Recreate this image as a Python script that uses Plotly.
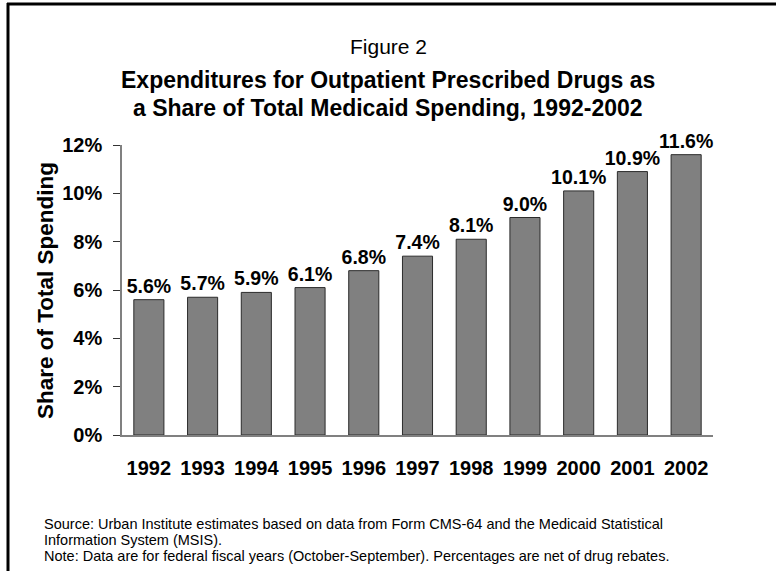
import plotly.graph_objects as go

# data
anos = ["1992", "1993", "1994", "1995", "1996", "1997", "1998", "1999", "2000", "2001", "2002"]
share = [5.6, 5.7, 5.9, 6.1, 6.8, 7.4, 8.1, 9.0, 10.1, 10.9, 11.6]
yticks = [0, 2, 4, 6, 8, 10, 12]
ytext = ["0%", "2%", "4%", "6%", "8%", "10%", "12%"]

W, H = 776, 571
L, R, T, B = 122, 63, 145, 136
FONT = "Liberation Sans, Arial, sans-serif"


def px(x):
    # pixel x -> paper x
    return (x - L) / (W - L - R)


def py(y):
    # pixel y -> paper y
    return (H - B - y) / (H - T - B)


fig = go.Figure()
fig.add_trace(go.Bar(
    x=anos, y=share,
    marker=dict(color="#808080", line=dict(color="#2b2b2b", width=1)),
    texttemplate="%{y:.1f}%", textposition="outside", cliponaxis=False,
    constraintext="none",
    textfont=dict(family=FONT, size=19.5, color="black", weight="bold"),
    showlegend=False,
))

fig.update_layout(
    width=W, height=H,
    margin=dict(l=L, r=R, t=T, b=B, pad=0),
    paper_bgcolor="white", plot_bgcolor="white",
    bargap=0.44,
    font=dict(family=FONT, color="black"),
    xaxis=dict(
        showline=True, linecolor="#808080", linewidth=1.5,
        ticks="", showgrid=False, ticklabelstandoff=14,
        tickfont=dict(family=FONT, size=20, weight="bold"),
    ),
    yaxis=dict(
        range=[0, 12], tickvals=yticks, ticktext=ytext,
        showline=True, linecolor="#808080", linewidth=1.5,
        ticks="outside", ticklen=7, tickcolor="#333333", showgrid=False,
        zeroline=False, ticklabelstandoff=7,
        tickfont=dict(family=FONT, size=20, weight="bold"),
    ),
)

# eixo y titulo
fig.add_annotation(text="<b>Share of Total Spending</b>", x=px(45), y=py(291),
                   xref="paper", yref="paper", textangle=-90, showarrow=False,
                   xanchor="center", yanchor="middle", font=dict(family=FONT, size=22.5))

# titulos
fig.add_annotation(text="Figure 2", x=px(388), y=py(46), xref="paper", yref="paper",
                   yanchor="middle", showarrow=False, font=dict(family=FONT, size=21))
fig.add_annotation(text="<b>Expenditures for Outpatient Prescribed Drugs as</b>",
                   x=px(388), y=py(80), xref="paper", yref="paper",
                   yanchor="middle", showarrow=False, font=dict(family=FONT, size=23))
fig.add_annotation(text="<b>a Share of Total Medicaid Spending, 1992-2002</b>",
                   x=px(388), y=py(108), xref="paper", yref="paper",
                   yanchor="middle", showarrow=False, font=dict(family=FONT, size=23))

# notas de rodape
notas = ["Source: Urban Institute estimates based on data from Form CMS-64 and the Medicaid Statistical",
         "Information System (MSIS).",
         "Note: Data are for federal fiscal years (October-September). Percentages are net of drug rebates."]
for i, n in enumerate(notas):
    fig.add_annotation(text=n, x=px(42), y=py(524 + i * 16), xref="paper", yref="paper",
                       xanchor="left", yanchor="middle", showarrow=False,
                       font=dict(family=FONT, size=14.5))

# moldura (top and left lines)
fig.add_shape(type="line", xref="paper", yref="paper", x0=px(7), x1=px(W + 5),
              y0=py(4), y1=py(4), line=dict(color="black", width=3))
fig.add_shape(type="line", xref="paper", yref="paper", x0=px(8), x1=px(8),
              y0=py(3), y1=py(H + 5), line=dict(color="black", width=3))

# page has a default 8px body margin; drop it so the figure sits at 0,0
fig.write_html("out.html", config={"displayModeBar": False},
               post_script="document.body.style.margin='0';")
